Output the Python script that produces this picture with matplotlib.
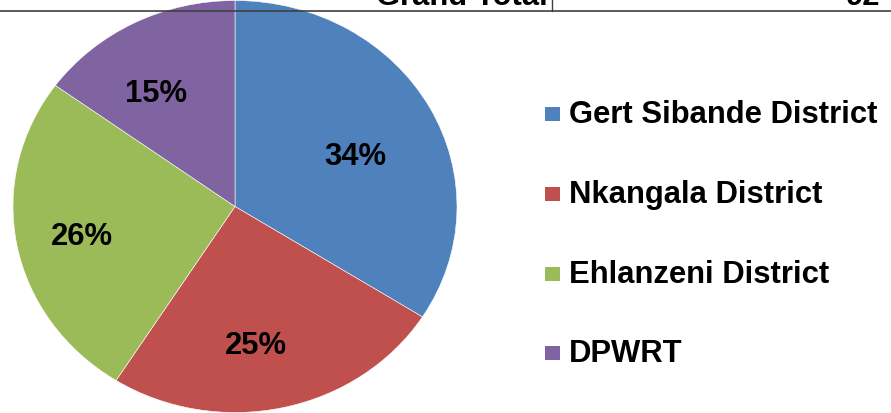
import matplotlib
matplotlib.use("Agg")
import matplotlib.pyplot as plt
import numpy as np
from matplotlib.patches import Rectangle
from matplotlib.lines import Line2D

# Data
districts = ["Gert Sibande District", "Nkangala District", "Ehlanzeni District", "DPWRT"]
shares = [34, 25, 26, 15]
colors = ["#4F81BD", "#C0504D", "#9BBB59", "#8064A2"]
header_label = "Grand Total"
header_value = "92"

# label placement tweaks (radial distance and angle shift per wedge)
label_dist = [0.595, 0.679, 0.705, 0.658]
label_shift = [-4.7, -4.8, 0.9, 5.8]

W, H = 891, 414
FS = 22.3
plt.rcParams["font.family"] = ["Liberation Sans", "DejaVu Sans"]
fig = plt.figure(figsize=(W / 100, H / 100), dpi=100)


def px(x, y):
    # pixel (top-left origin) -> figure fraction
    return x / W, 1 - y / H


# pie axes, clipped at the top by the table row
top_clip = 6
ax = fig.add_axes([0, 0, 530 / W, (H - top_clip) / H])
wedges, texts, autotexts = ax.pie(shares, colors=colors, startangle=90, counterclock=False,
                                  autopct="%1.0f%%", radius=1,
                                  wedgeprops=dict(edgecolor="white", linewidth=0.4),
                                  textprops=dict(fontsize=FS, fontweight="bold", color="black"))

# the pie in the picture is slightly wider than tall
cx, cy, rx, ry = 235, 207.5, 222, 206
ax.set_aspect("auto")
ax.set_xlim((0 - cx) / rx, (530 - cx) / rx)
ax.set_ylim(-(H - cy) / ry, (cy - top_clip) / ry)
ax.axis("off")

for w, t, d, s in zip(wedges, autotexts, label_dist, label_shift):
    ang = np.deg2rad((w.theta1 + w.theta2) / 2 + s)
    t.set_position((d * np.cos(ang), d * np.sin(ang)))
    t.set_ha("center")
    t.set_va("center")

# legend drawn by hand
leg_rows = [115, 195, 275, 354]
for name, c, yy in zip(districts, colors, leg_rows):
    x0, y0 = px(545, yy + 7)
    fig.add_artist(Rectangle((x0, y0), 15 / W, 14 / H, transform=fig.transFigure,
                             facecolor=c, edgecolor="none"))
    fig.text(*px(569, yy + 8), name, fontsize=FS, fontweight="bold",
             ha="left", va="baseline", color="black")

# cut-off table row at the top
fig.text(*px(548, 5), header_label, fontsize=FS, fontweight="bold", ha="right", va="baseline")
fig.text(*px(880, 5), header_value, fontsize=FS, fontweight="bold", ha="right", va="baseline")
fig.add_artist(Line2D([0, 1], [1 - 12 / H, 1 - 12 / H], transform=fig.transFigure,
                      color="#404040", linewidth=1.2))
fig.add_artist(Line2D([552 / W, 552 / W], [1, 1 - 12 / H], transform=fig.transFigure,
                      color="#404040", linewidth=1.0))

fig.savefig("out.png", dpi=100)
